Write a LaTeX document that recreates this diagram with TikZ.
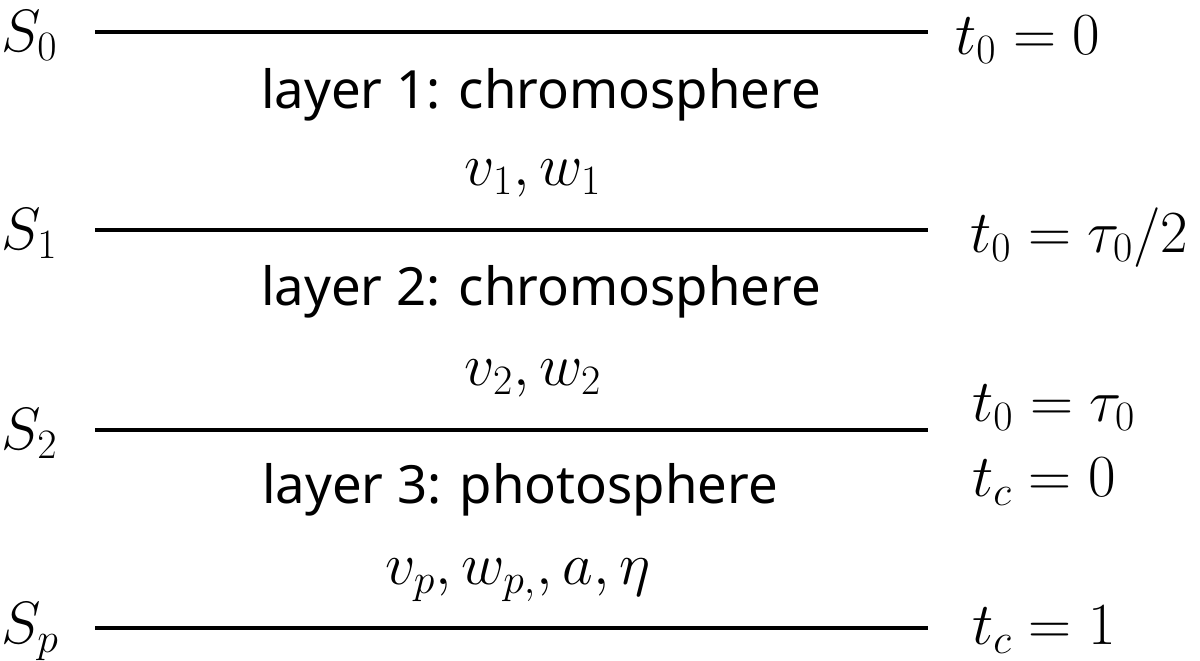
\RequirePackage{fix-cm}
\documentclass[tikz,border=0pt]{standalone}
\usepackage{fontspec}
\usepackage{amsmath}
\newfontfamily\layerfont{Noto Sans}
\usetikzlibrary{positioning}
\tikzstyle{line} = [draw, line width=2pt]

\begin{document}
\begin{tikzpicture}[x=0.02cm,y=-0.02cm,
 lbl/.style={inner sep=0pt,font=\fontsize{34}{40}\selectfont},
 txt/.style={inner sep=0pt,font=\layerfont\fontsize{30}{36}\selectfont}]
 \useasboundingbox (0,0) rectangle (1200,661);
 % surfaces
 \foreach \n/\y in {0/32,1/230,2/430,p/628}{
 \coordinate (a\n) at (95,\y);
 \coordinate (b\n) at (928,\y);
 \draw[line] (a\n) -- (b\n);
 \node[lbl,anchor=west] (S\n) at (1,\y+4) {$S_{\n}$};
 }
 % right labels
 \node[lbl,anchor=west] (r0) at (955,40) {$t_0=0$};
 \node[lbl,anchor=west] (r1) at (970,238) {$t_0=\tau_0/2$};
 \node[lbl,anchor=west] (r2) at (972,408) {$t_0=\tau_0$};
 \node[lbl,anchor=west] (r3) at (972,482) {$t_c=0$};
 \node[lbl,anchor=west] (r4) at (972,630) {$t_c=1$};
 % layers
 \node[txt] (L1) at (541,95) {layer 1: chromosphere};
 \node[lbl] (p1) at (533,178) {$v_1,w_1$};
 \node[txt] (L2) at (541,292) {layer 2: chromosphere};
 \node[lbl] (p2) at (533,378) {$v_2,w_2$};
 \node[txt] (L3) at (520,490) {layer 3: photosphere};
 \node[lbl] (p3) at (518,580) {$v_p,w_{p,},a,\eta$};
\end{tikzpicture}
\end{document}
